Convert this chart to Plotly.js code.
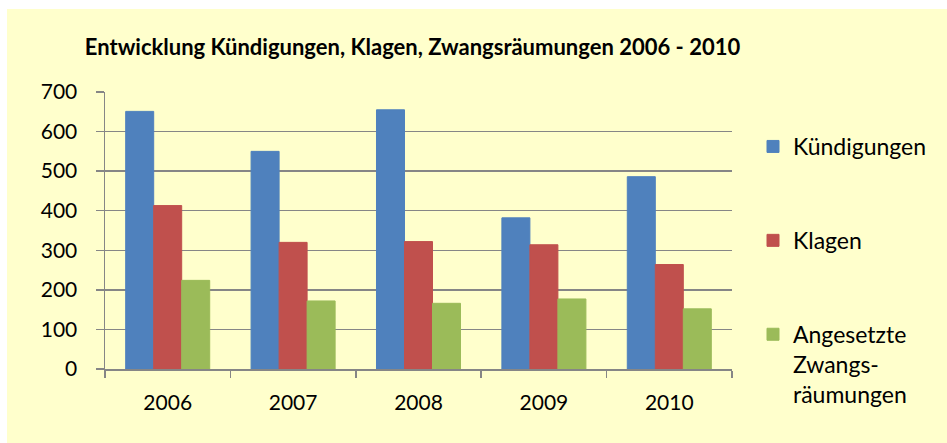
<!DOCTYPE html>
<html>
<head>
<meta charset="utf-8">
<script src="https://cdn.plot.ly/plotly-3.0.1.min.js"></script>
<style>html,body{margin:0;padding:0;background:#fff;}#chart{width:947px;height:443px;}</style>
</head>
<body>
<div id="chart"></div>
<script>
const years = ["2006", "2007", "2008", "2009", "2010"];
const kuendigungen = [651, 550, 655, 382, 486];
const klagen = [413, 320, 322, 314, 264];
const zwangsraeumungen = [224, 172, 166, 177, 152];
const seriesNames = ["Kündigungen", "Klagen", "Angesetzte<br>Zwangs-<br>räumungen"];
const yTicks = [0, 100, 200, 300, 400, 500, 600, 700];

const W = 947, H = 443;
const L = 105, R = 732, T = 92, B = 369;
const pw = R - L, ph = B - T;
const px = v => (v - L) / pw;
const py = v => (B - v) / ph;

const colors = ["#4F81BD", "#C0504D", "#9BBB59"];
const vals = [kuendigungen, klagen, zwangsraeumungen];
const font = "Lato, 'Open Sans', sans-serif";

const traces = vals.map((v, i) => ({
  type: "bar",
  x: years,
  y: v,
  name: seriesNames[i],
  legendgroup: "g" + i,
  marker: {color: colors[i], line: {width: 1, color: colors[i]}},
  hoverinfo: "x+y+name"
}));

const layout = {
  width: W, height: H,
  margin: {l: L, r: W - R, t: T, b: H - B, pad: 0},
  paper_bgcolor: "#ffffff",
  plot_bgcolor: "rgba(0,0,0,0)",
  font: {family: font, size: 21, color: "#000"},
  title: {
    text: "<b>Entwicklung Kündigungen, Klagen, Zwangsräumungen 2006 - 2010</b>",
    font: {family: font, size: 22, color: "#000"},
    x: 412.5 / W, xref: "container", xanchor: "center",
    y: 1 - 47 / H, yref: "container", yanchor: "middle"
  },
  barmode: "group",
  bargap: 0.33,
  bargroupgap: 0,
  xaxis: {
    type: "category",
    showline: true, linecolor: "#868686", linewidth: 1.5,
    ticks: "outside", tickson: "boundaries", ticklen: 7, tickcolor: "#868686", tickwidth: 1.5,
    showgrid: false, zeroline: false,
    tickfont: {family: font, size: 21, color: "#000"},
    ticklabelstandoff: 14
  },
  yaxis: {
    range: [0, 700],
    tickvals: yTicks,
    showline: true, linecolor: "#868686", linewidth: 1.5,
    ticks: "outside", ticklen: 8, tickcolor: "#868686", tickwidth: 1.5,
    showgrid: true, gridcolor: "#868686", gridwidth: 1.5,
    zeroline: false,
    tickfont: {family: font, size: 21, color: "#000"},
    ticklabelstandoff: 14
  },
  legend: {
    x: px(753), xanchor: "left",
    y: py(125), yanchor: "top",
    bgcolor: "rgba(0,0,0,0)",
    font: {family: font, size: 23, color: "#000"},
    traceorder: "grouped",
    tracegroupgap: 61,
    valign: "top",
    maxheight: 440
  },
  shapes: [{
    type: "rect", layer: "below",
    xref: "paper", yref: "paper",
    x0: px(7), x1: px(947), y0: py(443), y1: py(9),
    fillcolor: "#FFFFCC", line: {width: 0}
  }]
};

Plotly.newPlot("chart", traces, layout, {displayModeBar: false, staticPlot: true});
</script>
</body>
</html>
